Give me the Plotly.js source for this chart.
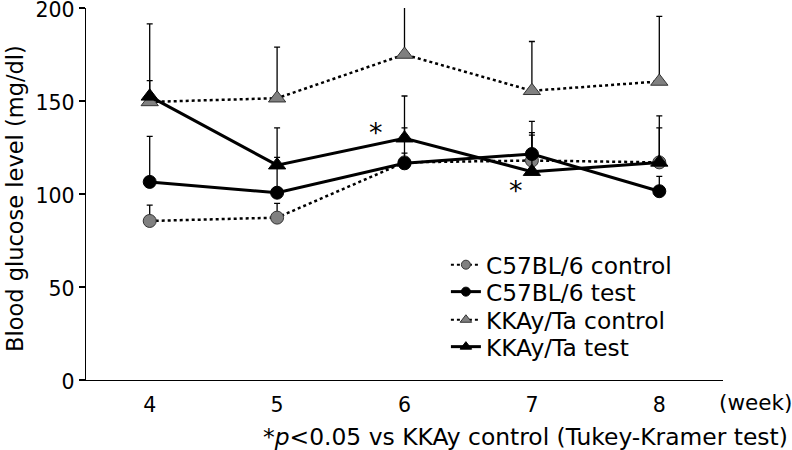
<!DOCTYPE html>
<html>
<head>
<meta charset="utf-8">
<script src="https://cdn.plot.ly/plotly-3.0.1.min.js"></script>
<style>html,body{margin:0;padding:0;background:#fff;}#chart{width:792px;height:450px;}</style>
</head>
<body>
<div id="chart"></div>
<script>
var weeks = [4, 5, 6, 7, 8];
var seriesNames = ["C57BL/6 control", "C57BL/6 test", "KKAy/Ta control", "KKAy/Ta test"];
var c57Control = [85.5, 87.3, 117, 118, 117];
var c57ControlErr = [8.5, 7.7, 5, 13.7, 18.5];
var c57Test = [106.5, 100.7, 116.5, 121.5, 101.5];
var c57TestErr = [24.5, 19, 19, 11.5, 8];
var kkControl = [149.5, 151.5, 175, 155.5, 160.5];
var kkControlErr = [42, 27.5, 35, 26.5, 35];
var kkTest = [152.5, 115.5, 130, 112, 117];
var kkTestErr = [8.5, 20, 22.7, 27, 25];
var sigWeeks = [6, 7];
var sigValues = [130, 112];
var yTicks = [0, 50, 100, 150, 200];

var FONT = "DejaVu Sans, Verdana, sans-serif";
var GRAY = "#808080";

function errBar(arr) {
  return {type: "data", symmetric: false, array: arr,
          arrayminus: arr.map(function(){return 0;}),
          color: "#000", thickness: 1.3, width: 3};
}

var styles = [
  {line: {color: "#000", width: 2.5, dash: "dot"}, symbol: "circle", size: 13, color: GRAY, lc: "#333"},
  {line: {color: "#000", width: 3}, symbol: "circle", size: 13, color: "#000", lc: "#000"},
  {line: {color: "#000", width: 2.5, dash: "dot"}, symbol: "triangle-up", size: 15, color: GRAY, lc: "#333"},
  {line: {color: "#000", width: 3}, symbol: "triangle-up", size: 15, color: "#000", lc: "#000"}
];
var ys = [c57Control, c57Test, kkControl, kkTest];
var errs = [c57ControlErr, c57TestErr, kkControlErr, kkTestErr];
var drawOrder = [0, 2, 1, 3];
var legendIds = ["legend", "legend2", "legend3", "legend4"];

var traces = [];
drawOrder.forEach(function(i) {
  var s = styles[i];
  traces.push({x: weeks, y: ys[i], name: seriesNames[i], showlegend: false, mode: "lines+markers",
    line: s.line, marker: {symbol: s.symbol, size: s.size, color: s.color, line: {color: s.lc, width: 1}},
    error_y: errBar(errs[i])});
});
// legend-only entries (no data drawn) with the smaller key markers of the reference
seriesNames.forEach(function(n, i) {
  var s = styles[i];
  traces.push({x: [null], y: [null], name: n, legend: legendIds[i], showlegend: true, mode: "lines+markers",
    line: {color: "#000", width: s.line.dash ? 2 : 3, dash: s.line.dash},
    marker: {symbol: s.symbol, size: s.symbol === "circle" ? 9 : 10, color: s.color, line: {color: s.lc, width: 1}}});
});

var sigShift = [[-29, 6], [-16, -19]];
var annotations = sigWeeks.map(function(w, i) {
  return {x: w, y: sigValues[i], xref: "x", yref: "y", text: "*", showarrow: false,
          xshift: sigShift[i][0], yshift: sigShift[i][1], font: {family: FONT, size: 27, color: "#000"}};
});
annotations.push({xref: "paper", yref: "paper", x: 0.9906, y: 0, yshift: -22, xanchor: "left", yanchor: "middle",
  text: "(week)", showarrow: false, font: {family: FONT, size: 21.5, color: "#000"}});
annotations.push({xref: "paper", yref: "paper", x: 1.105, y: 0, yshift: -57, xanchor: "right", yanchor: "middle",
  text: "*<i>p</i><0.05 vs KKAy control (Tukey-Kramer test)", showarrow: false,
  font: {family: FONT, size: 23.4, color: "#000"}});
annotations.push({xref: "paper", yref: "paper", x: 0, xshift: -71, y: 0.5, yshift: -5, xanchor: "center", yanchor: "middle",
  textangle: -90, text: "Blood glucose level (mg/dl)", showarrow: false,
  font: {family: FONT, size: 22.5, color: "#000"}});

function leg(yc) {
  return {x: 0.565, y: yc, xanchor: "left", yanchor: "middle", bgcolor: "rgba(0,0,0,0)",
          font: {family: FONT, size: 23.3, color: "#000"}, itemwidth: 30};
}

var layout = {
  width: 792, height: 450,
  margin: {l: 86, r: 69, t: 8, b: 70},
  paper_bgcolor: "#fff", plot_bgcolor: "#fff",
  font: {family: FONT, color: "#000"},
  showlegend: true,
  legend: leg(0.309), legend2: leg(0.2366), legend3: leg(0.161), legend4: leg(0.0887),
  xaxis: {range: [3.5, 8.5], tickvals: weeks, ticktext: weeks.map(String), showgrid: false, zeroline: false,
          showline: true, linecolor: "#000", linewidth: 1.3, ticks: "", ticklabelstandoff: 6,
          tickfont: {family: FONT, size: 20.5, color: "#000"}, fixedrange: true},
  yaxis: {range: [0, 200], tickvals: yTicks, showgrid: false, zeroline: false, showline: true,
          linecolor: "#000", linewidth: 1.3, ticks: "outside", ticklen: 6, tickwidth: 1.3, tickcolor: "#000",
          ticklabeloverflow: "allow", ticklabelshift: 2,
          tickfont: {family: FONT, size: 20.5, color: "#000"}, fixedrange: true},
  annotations: annotations
};

Plotly.newPlot("chart", traces, layout, {displayModeBar: false, staticPlot: true});
</script>
</body>
</html>
